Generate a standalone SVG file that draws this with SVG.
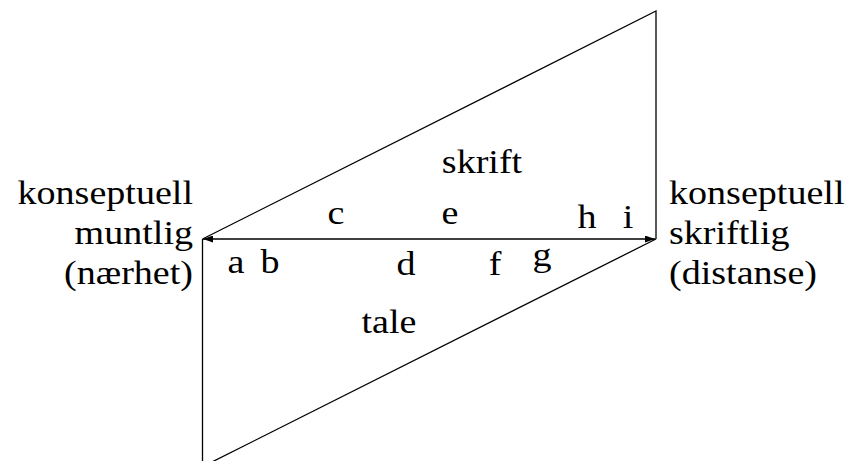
<svg xmlns="http://www.w3.org/2000/svg" width="848" height="461" viewBox="0 0 848 461">
<style>
text{font-family:"Liberation Serif","Times New Roman","DejaVu Serif",serif;font-size:34px;fill:#000}
.ln{stroke:#000;stroke-width:1.3;fill:none}
</style>
<defs>
<marker id="ah" viewBox="0 0 10 7" refX="10" refY="3.5" markerWidth="10" markerHeight="7" markerUnits="userSpaceOnUse" orient="auto-start-reverse">
<path d="M0,0 L10,3.5 L0,7 Z" fill="#000"/>
</marker>
</defs>
<rect width="848" height="461" fill="#fff"/>
<g id="connectors">
<path class="ln" d="M202.5,239 L656,11 L656,239"/>
<path class="ln" d="M202.5,239 L202.5,470"/>
<path class="ln" d="M656,239 L190,473"/>
<line class="ln" x1="203" y1="239" x2="655" y2="239" marker-start="url(#ah)" marker-end="url(#ah)"/>
</g>
<g id="left-label">
<text transform="translate(193,204) scale(1.12,1)" text-anchor="end">konseptuell</text>
<text transform="translate(193,244) scale(1.12,1)" text-anchor="end">muntlig</text>
<text transform="translate(193,284) scale(1.12,1)" text-anchor="end">(nærhet)</text>
</g>
<g id="right-label">
<text transform="translate(669,204) scale(1.12,1)">konseptuell</text>
<text transform="translate(669,244) scale(1.12,1)">skriftlig</text>
<text transform="translate(669,284) scale(1.12,1)">(distanse)</text>
</g>
<g id="skrift"><text transform="translate(482,173) scale(1.12,1)" text-anchor="middle">skrift</text></g>
<g id="tale"><text transform="translate(389,333) scale(1.12,1)" text-anchor="middle">tale</text></g>
<g id="points">
<text transform="translate(336,224) scale(1.12,1)" text-anchor="middle">c</text>
<text transform="translate(450,224) scale(1.12,1)" text-anchor="middle">e</text>
<text transform="translate(587,228) scale(1.12,1)" text-anchor="middle">h</text>
<text transform="translate(628,228) scale(1.12,1)" text-anchor="middle">i</text>
<text transform="translate(236,273) scale(1.12,1)" text-anchor="middle">a</text>
<text transform="translate(270,273) scale(1.12,1)" text-anchor="middle">b</text>
<text transform="translate(406,275) scale(1.12,1)" text-anchor="middle">d</text>
<text transform="translate(495,275) scale(1.12,1)" text-anchor="middle">f</text>
<text transform="translate(542,266) scale(1.12,1)" text-anchor="middle">g</text>
</g>
</svg>
